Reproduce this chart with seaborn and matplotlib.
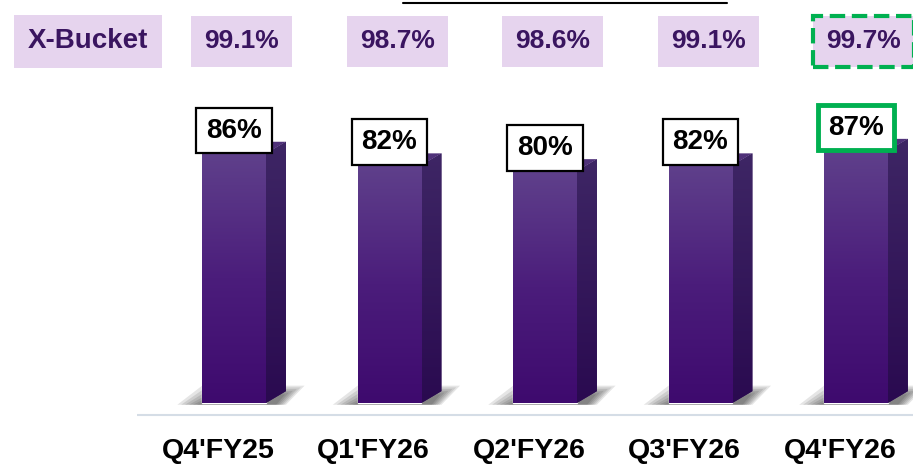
import matplotlib
matplotlib.use('Agg')
import matplotlib.pyplot as plt
import numpy as np
import seaborn as sns
import pandas as pd
from matplotlib.colors import LinearSegmentedColormap
from matplotlib.patches import Polygon
from matplotlib.lines import Line2D
from matplotlib.transforms import blended_transform_factory, ScaledTranslation

# data
quarters = ["Q4'FY25", "Q1'FY26", "Q2'FY26", "Q3'FY26", "Q4'FY26"]
collection = [86, 82, 80, 82, 87]
xbucket = [99.1, 98.7, 98.6, 99.1, 99.7]

sns.set_style('white')
plt.rcParams['font.family'] = ['Liberation Sans', 'DejaVu Sans']

df = pd.DataFrame({'quarter': quarters, 'value': collection})

fig = plt.figure(figsize=(9.13, 4.66), dpi=100)
ax = fig.add_axes([137/913, 0.104, 776/913, 0.6534])

sns.barplot(data=df, x='quarter', y='value', width=0.41, color='#4a1a78',
            errorbar=None, ax=ax, zorder=3)

front_cmap = LinearSegmentedColormap.from_list('front', ['#5f408b', '#4b1d7b', '#3e0a6e'])
side_cmap = LinearSegmentedColormap.from_list('side', ['#3e2665', '#2a0a50'])
grad = np.linspace(0, 1, 256)[:, None]

dx, dy = 0.129, 4.1  # 3d depth

for i, p in enumerate(ax.patches):
    x, w, h = p.get_x(), p.get_width(), p.get_height()

    # soft shadow behind the bar
    for k in range(6):
        s = k * 0.025
        shadow = Polygon([(x - 0.16 + s, -0.6), (x + w + dx - s * 0.5, -0.6),
                          (x + w + dx + 0.12 - s, 6 - k * 0.6), (x + s, 6 - k * 0.6)],
                         closed=True, fc='#000000', ec='none', alpha=0.1, zorder=2)
        ax.add_patch(shadow)

    # side face
    side = Polygon([(x + w, 0), (x + w + dx, dy), (x + w + dx, h + dy), (x + w, h)],
                   closed=True, fc='#33165a', ec='none', zorder=3)
    ax.add_patch(side)
    ax.imshow(grad, extent=[x + w, x + w + dx, 0, h + dy], aspect='auto',
              cmap=side_cmap, clip_path=side, zorder=3.1)

    # top face
    top = Polygon([(x, h), (x + dx, h + dy), (x + w + dx, h + dy), (x + w, h)],
                  closed=True, fc='#4f3179', ec='none', zorder=3.2)
    ax.add_patch(top)

    # front face gradient
    ax.imshow(grad, extent=[x, x + w, 0, h], aspect='auto',
              cmap=front_cmap, clip_path=p, zorder=3.3)

    last = i == len(collection) - 1
    ax.text(x + w / 2, h + 3.5, f'{collection[i]}%', ha='center', va='bottom',
            fontsize=20, fontweight='bold', color='black', zorder=6,
            bbox=dict(boxstyle='square,pad=0.35', fc='white',
                      ec='#00b050' if last else 'black', lw=3.5 if last else 1.6))

# baseline
ax.axhline(-4.1, color='#d5dde6', lw=1.5, zorder=1)

# X-Bucket row
trans = blended_transform_factory(ax.transData, fig.transFigure)
for i, v in enumerate(xbucket):
    last = i == len(xbucket) - 1
    ax.text(i + 0.05, 0.911, f'{v}%', transform=trans, ha='center', va='center',
            fontsize=19, fontweight='bold', color='#3a1560', clip_on=False,
            bbox=dict(boxstyle='square,pad=0.5', fc='#e6d4ee',
                      ec='#00b050' if last else 'none', lw=3, ls='--' if last else '-'))

fig.text(88/913, 0.911, 'X-Bucket', ha='center', va='center', fontsize=20,
         fontweight='bold', color='#3a1560',
         bbox=dict(boxstyle='square,pad=0.5', fc='#e6d4ee', ec='none'))

# cut-off title underline at the top
fig.add_artist(Line2D([403/913, 727/913], [1 - 3/466] * 2, color='black', lw=1.5))

ax.set_xlim(-0.624, 4.367)
ax.set_ylim(-5, 100)
ax.set_yticks([])
ax.set(xlabel='', ylabel='')
ax.tick_params(axis='x', length=0, pad=15, labelsize=20.5, labelcolor='black')
shift = ScaledTranslation(-0.16, 0, fig.dpi_scale_trans)
for lab in ax.get_xticklabels():
    lab.set_fontweight('bold')
    lab.set_transform(lab.get_transform() + shift)
for s in ax.spines.values():
    s.set_visible(False)
ax.patch.set_alpha(0)

fig.savefig('out.png', dpi=100)
